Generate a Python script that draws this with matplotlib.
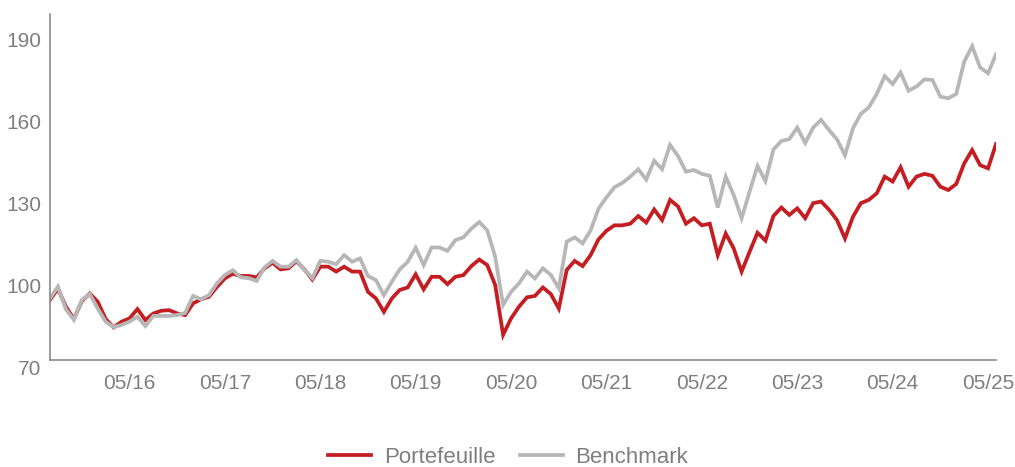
import matplotlib
matplotlib.use("Agg")
import matplotlib.pyplot as plt
import pandas as pd

plt.rcParams['font.family'] = ['Liberation Sans', 'DejaVu Sans']

# monthly values, 07/2015 - 06/2025
months = pd.date_range("2015-07-01", periods=120, freq="MS")

portefeuille = [
    92.0, 96.0, 89.5, 85.0, 91.5, 94.3, 91.3, 85.0, 81.9, 84.0,
    85.2, 88.6, 84.6, 87.0, 88.0, 88.2, 87.0, 86.4, 90.7, 92.2,
    93.1, 96.7, 99.8, 101.5, 100.7, 100.7, 100.2, 103.5, 105.5, 103.1,
    103.5, 106.1, 103.1, 99.4, 104.1, 104.1, 102.3, 104.1, 102.3, 102.3,
    94.9, 92.5, 87.6, 92.5, 95.6, 96.5, 101.3, 95.8, 100.4, 100.4,
    97.7, 100.4, 101.0, 104.3, 106.7, 104.7, 97.4, 79.2, 85.2, 89.5,
    92.9, 93.4, 96.5, 94.1, 88.8, 102.9, 106.2, 104.3, 108.3, 114.1,
    117.2, 119.2, 119.2, 119.8, 122.6, 120.2, 125.0, 121.1, 128.5, 126.1,
    119.8, 121.8, 119.2, 119.8, 108.3, 116.2, 110.8, 102.3, 109.5, 116.5,
    113.6, 122.6, 125.7, 123.0, 125.4, 121.8, 127.3, 127.9, 124.9, 121.1,
    114.4, 122.3, 127.3, 128.5, 130.9, 137.0, 135.2, 140.4, 133.3, 137.0,
    138.0, 137.3, 133.3, 132.1, 134.3, 141.8, 146.7, 141.2, 140.0, 148.9,
]

benchmark = [
    92.5, 96.8, 88.5, 84.7, 91.9, 94.1, 88.8, 84.0, 82.0, 82.8,
    84.0, 85.8, 82.4, 86.1, 86.1, 86.1, 86.4, 87.2, 93.4, 92.2,
    93.7, 98.0, 101.1, 102.8, 100.2, 99.9, 98.9, 103.9, 106.2, 104.1,
    104.1, 106.5, 102.9, 99.9, 106.2, 105.9, 105.0, 108.3, 105.9, 107.1,
    100.7, 99.2, 93.7, 98.6, 103.1, 105.9, 111.0, 104.7, 111.1, 111.1,
    109.9, 113.8, 114.8, 118.0, 120.4, 117.4, 107.7, 90.1, 94.9, 98.0,
    102.3, 99.8, 103.5, 101.1, 96.2, 113.2, 114.8, 112.6, 117.3, 125.3,
    129.4, 133.1, 134.7, 137.0, 139.7, 135.9, 142.8, 139.7, 148.6, 144.5,
    138.8, 139.4, 138.0, 137.3, 125.7, 137.0, 130.3, 121.8, 131.5, 140.9,
    135.4, 146.9, 150.0, 150.7, 154.9, 149.3, 154.9, 157.7, 154.0, 150.6,
    144.8, 154.6, 159.9, 162.3, 167.2, 173.7, 170.8, 175.0, 168.4, 169.9,
    172.5, 172.3, 166.2, 165.6, 167.2, 179.0, 184.6, 176.9, 174.7, 181.7,
]

y_ticks = [70, 100, 130, 160, 190]

red = "#C41E23"
grey = "#B7B7B7"
text_grey = "#7F7F7F"

fig = plt.figure(figsize=(10.15, 4.67), dpi=100)
ax = fig.add_axes([50 / 1015, 107 / 467, 946 / 1015, 346 / 467])

x = list(range(len(months)))
ax.plot(x, portefeuille, color=red, lw=2.7, label="Portefeuille", solid_joinstyle="miter")
ax.plot(x, benchmark, color=grey, lw=2.7, label="Benchmark", solid_joinstyle="miter")

ax.set_xlim(0, len(months) - 1)
ax.set_ylim(70, 196.4)

may = [i for i, m in enumerate(months) if m.month == 5]
ax.set_xticks(may)
ax.set_xticklabels([months[i].strftime("%m/%y") for i in may])
ax.set_yticks(y_ticks)

ax.tick_params(axis="both", length=0, labelsize=15, labelcolor=text_grey)
ax.tick_params(axis="x", pad=10)
ax.tick_params(axis="y", pad=6)
for lab in ax.get_yticklabels():
    lab.set_verticalalignment("top")

for side in ["top", "right"]:
    ax.spines[side].set_visible(False)
for side in ["left", "bottom"]:
    ax.spines[side].set_color("#808080")
    ax.spines[side].set_linewidth(1.1)

fig.legend(loc="center", bbox_to_anchor=(508 / 1015, 1 - 457.5 / 467), ncol=2,
           frameon=False, fontsize=16, labelcolor=text_grey,
           handlelength=1.95, handletextpad=0.55, columnspacing=1.1)

fig.savefig("out.png", dpi=100)
